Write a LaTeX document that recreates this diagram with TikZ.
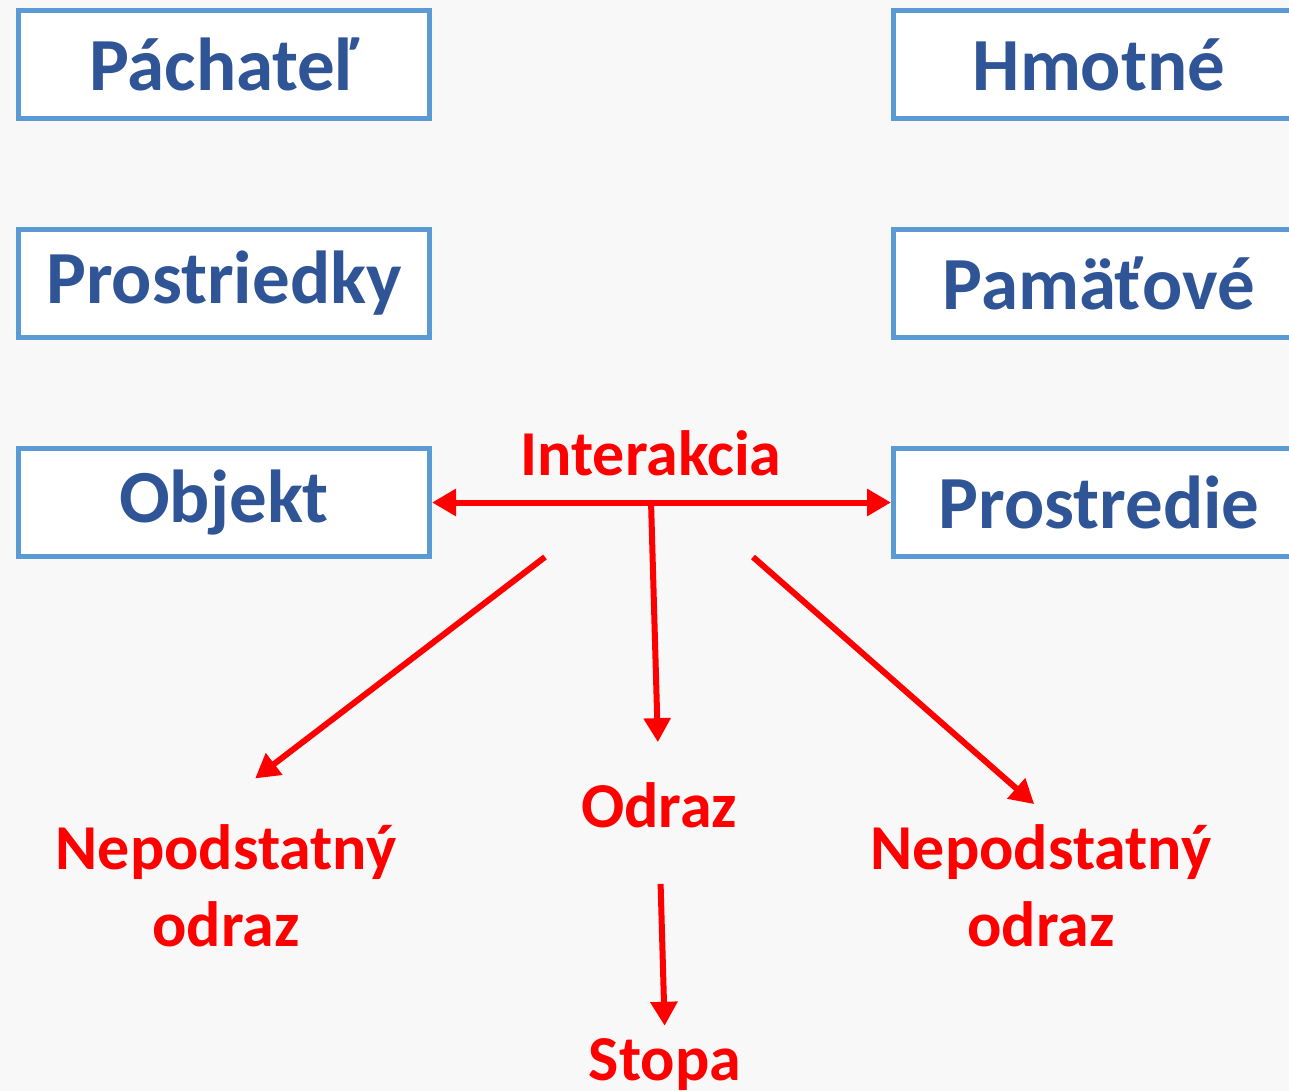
\documentclass[tikz,border=0pt]{standalone}
\usepackage{fontspec}
\setmainfont{Carlito}
\usepackage{tikz}
\usetikzlibrary{arrows,arrows.meta,positioning}
\definecolor{boxline}{HTML}{5B9BD5}
\definecolor{boxtext}{HTML}{2F5597}
\definecolor{bggray}{HTML}{F8F8F8}
\tikzstyle{block} = [rectangle, draw=boxline, line width=5pt, fill=white,
    text=boxtext, minimum width=411pt, minimum height=108pt, inner sep=0pt,
    font=\fontsize{75}{84}\selectfont\bfseries]
\tikzstyle{redtext} = [text=red, inner sep=0pt, align=center,
    font=\fontsize{64}{77}\selectfont\bfseries]
\tikzstyle{line} = [draw=red, line width=6pt,
    -{Triangle[length=24pt,width=26pt]}]

\begin{document}
\begin{tikzpicture}[x=1pt, y=-1pt, node distance=219pt]
  \path[use as bounding box, fill=bggray] (0,0) rectangle (1289,1091);
  \clip (0,0) rectangle (1289,1091);
  % Place nodes
  \node [block] (pachatel) at (224,64.5) {Páchateľ};
  \node [block, below of=pachatel] (prostriedky) {Prostriedky};
  \node [block, below of=prostriedky] (objekt) {Objekt};
  \node [block, right of=pachatel, node distance=875pt] (hmotne) {Hmotné};
  \node [block, below of=hmotne] (pamatove) {Pamäťové};
  \node [block, below of=pamatove] (prostredie) {Prostredie};
  \node [redtext] (interakcia) at (651,453) {Interakcia};
  \node [redtext] (odraz) at (659,805) {Odraz};
  \node [redtext] (stopa) at (665,1065) {Stopa};
  \node [redtext] (nepL) at (226,886) {Nepodstatný\\odraz};
  \node [redtext] (nepR) at (1041,886) {Nepodstatný\\odraz};
  \coordinate (mid) at (651,501);
  \coordinate (startL) at (545,557);
  \coordinate (startR) at (753,557);
  % Draw edges
  \draw [line, {Triangle[length=24pt,width=26pt]}-{Triangle[length=24pt,width=26pt]}]
    (objekt.east) -- (prostredie.west);
  \draw [line, shorten >=40pt] (mid) -- (odraz.north);
  \draw [line, shorten >=76pt] (startL) -- (nepL.117);
  \draw [line, shorten >=31pt] (startR) -- (nepR.75);
  \draw [line, shorten <=56pt, shorten >=13pt] (odraz.south) -- (stopa.north);
\end{tikzpicture}
\end{document}
